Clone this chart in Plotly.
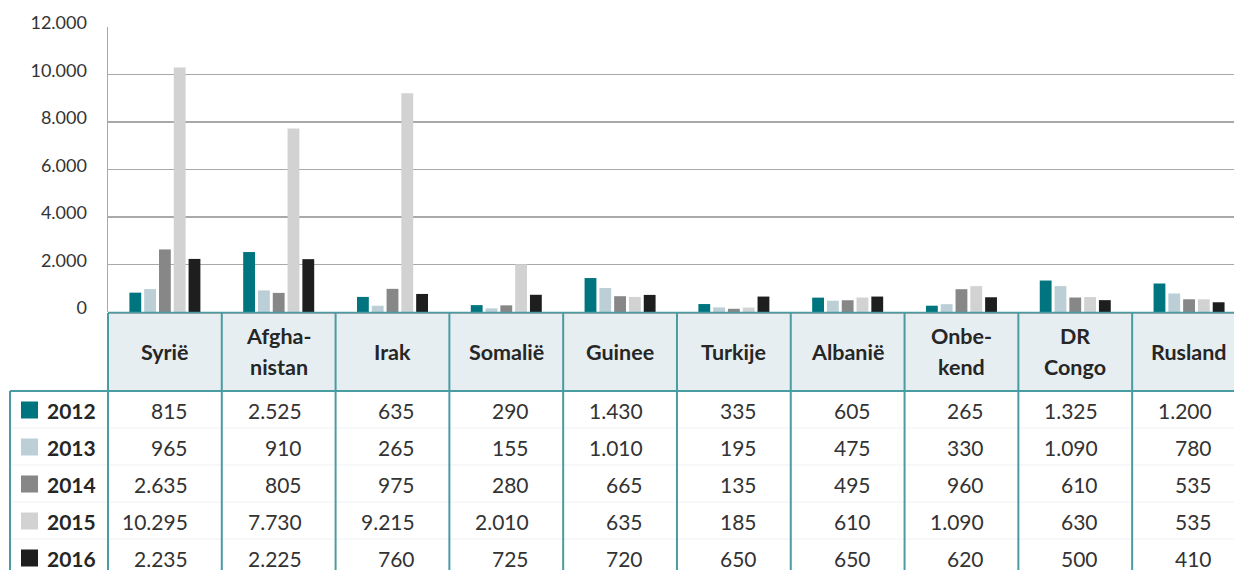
import plotly.graph_objects as go

W, H = 1234, 570

categories = ["Syrië", "Afghanistan", "Irak", "Somalië", "Guinee", "Turkije",
              "Albanië", "Onbekend", "DR Congo", "Rusland"]
header_labels = [["Syrië"], ["Afgha-", "nistan"], ["Irak"], ["Somalië"], ["Guinee"],
                 ["Turkije"], ["Albanië"], ["Onbe-", "kend"], ["DR", "Congo"], ["Rusland"]]
years = ["2012", "2013", "2014", "2015", "2016"]
v2012 = [815, 2525, 635, 290, 1430, 335, 605, 265, 1325, 1200]
v2013 = [965, 910, 265, 155, 1010, 195, 475, 330, 1090, 780]
v2014 = [2635, 805, 975, 280, 665, 135, 495, 960, 610, 535]
v2015 = [10295, 7730, 9215, 2010, 635, 185, 610, 1090, 630, 535]
v2016 = [2235, 2225, 760, 725, 720, 650, 650, 620, 500, 410]
series = [v2012, v2013, v2014, v2015, v2016]
colors = ["#00757f", "#bccfd7", "#878787", "#d2d2d2", "#1e1e1e"]
y_ticks = [0, 2000, 4000, 6000, 8000, 10000, 12000]

FONT = "Lato"
TEAL = "#4a9ca3"
GRID = "#a9a9a9"

# layout geometry (pixels)
L_PX = 108
R_PX = 1234
PLOT_TOP = 27
PLOT_BOT = 312
X_MAX = 9.395
HEAD_BOT = 391
ROW_H = 37
LEG_LEFT = 10


def px(x):
    return x / W


def py(y):
    return 1 - y / H


colw = (R_PX - L_PX) / (X_MAX + 0.5)


def col_left(i):
    return L_PX + i * colw


fig = go.Figure()
for yr, vals, c in zip(years, series, colors):
    fig.add_trace(go.Bar(x=categories, y=vals, name=yr, marker_color=c,
                         marker_line_width=0, showlegend=False))

shapes = []
annotations = []

# header background
shapes.append(dict(type="rect", xref="paper", yref="paper",
                   x0=px(L_PX), x1=1, y0=py(HEAD_BOT), y1=py(PLOT_BOT + 1),
                   fillcolor="#e7eef1", line_width=0, layer="below"))
# faint row separators
for r in range(1, len(years)):
    yl = HEAD_BOT + r * ROW_H
    shapes.append(dict(type="line", xref="paper", yref="paper", x0=px(LEG_LEFT), x1=1,
                       y0=py(yl), y1=py(yl), line=dict(color="#eef2f3", width=1),
                       layer="below"))
# gray axis base line and teal table top
shapes.append(dict(type="line", xref="paper", yref="paper", x0=px(L_PX), x1=1,
                   y0=py(PLOT_BOT + 1.5), y1=py(PLOT_BOT + 1.5),
                   line=dict(color=GRID, width=1)))
shapes.append(dict(type="line", xref="paper", yref="paper", x0=px(L_PX), x1=1,
                   y0=py(PLOT_BOT + 0.5), y1=py(PLOT_BOT + 0.5),
                   line=dict(color=TEAL, width=1.5)))
shapes.append(dict(type="line", xref="paper", yref="paper", x0=px(LEG_LEFT), x1=1,
                   y0=py(HEAD_BOT), y1=py(HEAD_BOT), line=dict(color=TEAL, width=2)))
# left border of legend column
shapes.append(dict(type="line", xref="paper", yref="paper", x0=px(LEG_LEFT), x1=px(LEG_LEFT),
                   y0=py(HEAD_BOT), y1=0, line=dict(color=TEAL, width=2)))
# column dividers
for i in range(len(categories)):
    xl = col_left(i)
    shapes.append(dict(type="line", xref="paper", yref="paper", x0=px(xl), x1=px(xl),
                       y0=py(PLOT_BOT + 1), y1=0, line=dict(color=TEAL, width=2)))

# header labels
hc = (PLOT_BOT + HEAD_BOT) / 2
for i, lines in enumerate(header_labels):
    xc = col_left(i) + colw / 2
    n = len(lines)
    for k, t in enumerate(lines):
        yc = hc + (k - (n - 1) / 2) * 31
        annotations.append(dict(xref="paper", yref="paper", x=px(xc), y=py(yc),
                                text=f"<b>{t}</b>", showarrow=False, xanchor="center",
                                yanchor="middle",
                                font=dict(family=FONT, size=21.5, color="#262626")))

# rows
for r, (yr, vals, c) in enumerate(zip(years, series, colors)):
    yc = HEAD_BOT + ROW_H / 2 + r * ROW_H + 0.5
    shapes.append(dict(type="rect", xref="paper", yref="paper",
                       x0=px(21), x1=px(38), y0=py(yc + 8.5), y1=py(yc - 8.5),
                       fillcolor=c, line_width=0))
    annotations.append(dict(xref="paper", yref="paper", x=px(45), y=py(yc),
                            text=f"<b>{yr}</b>", showarrow=False, xanchor="left",
                            yanchor="middle",
                            font=dict(family=FONT, size=21, color="#262626")))
    for i, v in enumerate(vals):
        xr = col_left(i + 1) - 32
        annotations.append(dict(xref="paper", yref="paper", x=px(xr), y=py(yc),
                                text=f"{v:,}".replace(",", "."), showarrow=False,
                                xanchor="right", yanchor="middle",
                                font=dict(family=FONT, size=21, color="#333333")))

fig.update_layout(
    width=W, height=H, autosize=False,
    margin=dict(l=0, r=0, t=0, b=0, pad=0, autoexpand=False),
    paper_bgcolor="white", plot_bgcolor="white",
    barmode="group", bargap=0.35, bargroupgap=0.2,
    separators=",.",
    showlegend=False,
    font=dict(family=FONT, color="#333333"),
    xaxis=dict(domain=[px(L_PX), px(R_PX)], range=[-0.5, X_MAX], showticklabels=False,
               showgrid=False, zeroline=False, showline=False, fixedrange=True,
               automargin=False),
    yaxis=dict(domain=[py(PLOT_BOT), py(PLOT_TOP)], range=[0, 12000],
               tickvals=y_ticks, tickformat=",d", showgrid=True, gridcolor=GRID,
               gridwidth=1.5, zeroline=False, showline=True, linecolor=GRID,
               linewidth=1.5, ticks="", ticklabelstandoff=16, ticklabelshift=-4,
               automargin=False,
               tickfont=dict(family=FONT, size=18, color="#333333")),
    shapes=shapes,
    annotations=annotations,
)

fig.write_html("out.html",
               config={"displayModeBar": False, "staticPlot": True},
               post_script="document.body.style.margin='0';document.body.style.overflow='hidden';")
